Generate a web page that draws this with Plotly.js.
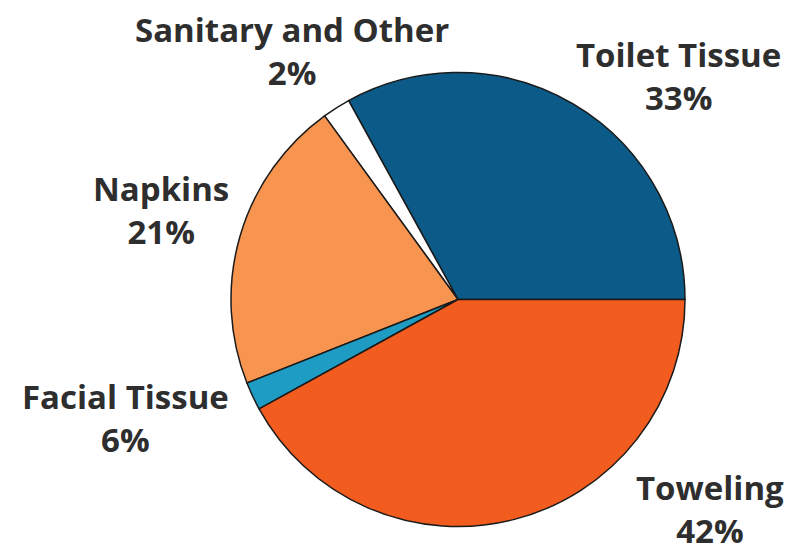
<!DOCTYPE html>
<html>
<head>
<meta charset="utf-8">
<script src="https://cdn.plot.ly/plotly-3.0.1.min.js"></script>
<style>html,body{margin:0;padding:0;background:#fff;}#chart{width:809px;height:557px;}</style>
</head>
<body>
<div id="chart"></div>
<script>
// Data
const categories = ["Toilet Tissue", "Sanitary and Other", "Napkins", "Facial Tissue", "Toweling"];
const drawnShares = [33, 2, 21, 2, 42];          // slice sizes as drawn
const percentLabels = ["33%", "2%", "21%", "6%", "42%"]; // labels as printed
const sliceColors = ["#0c5a88", "#ffffff", "#f7944f", "#1e9cc4", "#f25c1f"];

// label placement (pixel centres of each two-line label)
const labelPos = [
  [678, 76], [292, 51], [161, 210], [125, 418], [710, 509]
];

const W = 809, H = 557;
const annotations = categories.map((c, i) => ({
  text: "<b>" + c + "</b><br><b>" + percentLabels[i] + "</b>",
  x: labelPos[i][0] / W, y: 1 - labelPos[i][1] / H,
  xref: "paper", yref: "paper", xanchor: "center", yanchor: "middle",
  showarrow: false, align: "center", borderpad: 0, borderwidth: 0,
  font: {family: "Open Sans, Noto Sans, sans-serif", size: 33, color: "#2e2e2e"}
}));

const total = drawnShares.reduce((a, b) => a + b, 0);
const cx = 458, cy = 299.5, r = 227;
Plotly.newPlot("chart", [{
  type: "pie",
  labels: categories,
  values: drawnShares,
  sort: false,
  direction: "counterclockwise",
  // first slice starts at 3 o'clock and runs counterclockwise
  rotation: 90 - 360 * drawnShares[0] / total,
  marker: {colors: sliceColors, line: {color: "#1a1a1a", width: 1.5}},
  textinfo: "none",
  hoverinfo: "label+percent",
  domain: {x: [(cx - r) / W, (cx + r) / W], y: [(H - cy - r) / H, (H - cy + r) / H]}
}], {
  width: W, height: H,
  margin: {l: 0, r: 0, t: 0, b: 0},
  showlegend: false,
  paper_bgcolor: "#ffffff",
  annotations: annotations
}, {displayModeBar: false, staticPlot: true});
</script>
</body>
</html>
